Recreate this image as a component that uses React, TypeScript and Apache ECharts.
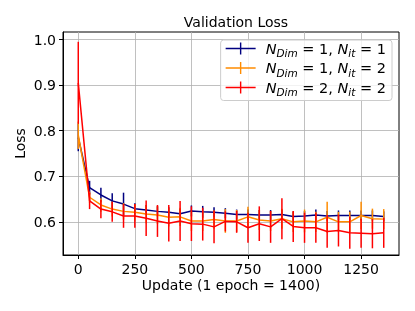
import React, { useEffect, useRef } from "react";
import * as echarts from "echarts";

const steps = [0, 50, 100, 150, 200, 250, 300, 350, 400, 450, 500, 550, 600, 650, 700, 750, 800, 850, 900, 950, 1000, 1050, 1100, 1150, 1200, 1250, 1300, 1350];

const blueVals = [0.785, 0.675, 0.659, 0.646, 0.639, 0.629, 0.626, 0.623, 0.621, 0.618, 0.624, 0.622, 0.621, 0.619, 0.616, 0.616, 0.615, 0.615, 0.616, 0.612, 0.613, 0.615, 0.613, 0.614, 0.614, 0.614, 0.614, 0.612];
const blueErr = [0.03, 0.015, 0.016, 0.017, 0.025, 0.012, 0.011, 0.011, 0.011, 0.011, 0.012, 0.013, 0.011, 0.011, 0.011, 0.011, 0.011, 0.011, 0.011, 0.011, 0.011, 0.012, 0.011, 0.011, 0.011, 0.011, 0.011, 0.011];

const orangeVals = [0.79, 0.654, 0.637, 0.628, 0.623, 0.621, 0.617, 0.615, 0.610, 0.611, 0.602, 0.602, 0.605, 0.602, 0.602, 0.611, 0.604, 0.602, 0.607, 0.600, 0.602, 0.600, 0.610, 0.600, 0.600, 0.614, 0.607, 0.606];
const orangeErr = [0.03, 0.012, 0.015, 0.016, 0.018, 0.018, 0.02, 0.02, 0.02, 0.02, 0.022, 0.022, 0.02, 0.026, 0.024, 0.022, 0.022, 0.022, 0.022, 0.022, 0.025, 0.022, 0.034, 0.022, 0.022, 0.03, 0.022, 0.022];

const redVals = [0.905, 0.646, 0.628, 0.622, 0.613, 0.613, 0.608, 0.602, 0.597, 0.602, 0.596, 0.595, 0.589, 0.601, 0.600, 0.587, 0.596, 0.589, 0.607, 0.590, 0.587, 0.587, 0.579, 0.581, 0.576, 0.575, 0.574, 0.576];
const redErr = [0.09, 0.018, 0.02, 0.022, 0.026, 0.026, 0.039, 0.035, 0.04, 0.044, 0.038, 0.036, 0.036, 0.022, 0.024, 0.033, 0.038, 0.035, 0.045, 0.034, 0.033, 0.033, 0.036, 0.035, 0.035, 0.032, 0.032, 0.033];

const nDims = [1, 1, 2];
const nIts = [1, 2, 2];
const seriesNames = ["NDim=1,Nit=1", "NDim=1,Nit=2", "NDim=2,Nit=2"];
const colors = ["#000080", "#ff8c00", "#ff0000"];
const allVals = [blueVals, orangeVals, redVals];
const allErrs = [blueErr, orangeErr, redErr];

const xTicks = [0, 250, 500, 750, 1000, 1250];
const yTicks = [0.6, 0.7, 0.8, 0.9, 1.0];

const FONT = "DejaVu Sans";

export default function App() {
  const ref = useRef<HTMLDivElement>(null);
  useEffect(() => {
    if (!ref.current) return;
    const chart = echarts.init(ref.current, null, { renderer: "svg" });
    const series: any[] = [];
    allVals.forEach((vals, k) => {
      series.push({
        name: seriesNames[k],
        type: "line",
        data: steps.map((s, i) => [s, vals[i]]),
        symbol: "none",
        lineStyle: { color: colors[k], width: 1.5 },
        itemStyle: { color: colors[k] },
        z: 2 + k * 2,
      });
      series.push({
        name: seriesNames[k] + "_err",
        type: "custom",
        data: steps.map((s, i) => [s, vals[i] - allErrs[k][i], vals[i] + allErrs[k][i]]),
        encode: { x: 0, y: [1, 2] },
        z: 3 + k * 2,
        renderItem: (params: any, api: any) => {
          const x = api.value(0);
          const p1 = api.coord([x, api.value(1)]);
          const p2 = api.coord([x, api.value(2)]);
          return {
            type: "line",
            shape: { x1: p1[0], y1: p1[1], x2: p2[0], y2: p2[1] },
            style: { stroke: colors[k], lineWidth: 1.5 },
          };
        },
      });
    });
    const axisCommon = {
      axisLine: { show: true, onZero: false, lineStyle: { color: "#000", width: 1 } },
      axisTick: { show: true, inside: false, length: 4, lineStyle: { color: "#000", width: 1 } },
      splitLine: { show: true, lineStyle: { color: "#b0b0b0", width: 0.8 } },
    };
    chart.setOption({
      animation: false,
      title: {
        text: "Validation Loss",
        left: 231,
        textAlign: "center",
        top: 10,
        textStyle: { fontFamily: FONT, fontSize: 14, fontWeight: "normal", color: "#000" },
      },
      grid: { left: 63, right: 16, top: 32, bottom: 56, show: true, borderColor: "#000", borderWidth: 1, containLabel: false },
      legend: {
        data: seriesNames,
        orient: "vertical",
        right: 23,
        top: 40,
        itemWidth: 30,
        itemHeight: 12,
        itemGap: 2,
        padding: [1, 6, 3, 5],
        backgroundColor: "rgba(255,255,255,0.8)",
        borderColor: "#cccccc",
        borderWidth: 1,
        borderRadius: 3,
        icon: "path://M0,5.3H30V6.7H0Z M14.3,0H15.7V12H14.3Z",
        formatter: (name: string) => {
          const k = seriesNames.indexOf(name);
          return `{n|N}{s|Dim}{t| = ${nDims[k]}, }{m|N}{s|it}{t| = ${nIts[k]}}`;
        },
        textStyle: {
          fontFamily: FONT,
          fontSize: 14.5,
          color: "#000",
          rich: {
            n: { fontFamily: FONT, fontStyle: "italic", fontSize: 14.5, lineHeight: 20, verticalAlign: "middle", padding: [0, 0, 0, 5], color: "#000" },
            m: { fontFamily: FONT, fontStyle: "italic", fontSize: 14.5, lineHeight: 20, verticalAlign: "middle", color: "#000" },
            s: { fontFamily: FONT, fontStyle: "italic", fontSize: 10.5, lineHeight: 11, verticalAlign: "bottom", color: "#000" },
            t: { fontFamily: FONT, fontSize: 14.5, lineHeight: 20, verticalAlign: "middle", color: "#000" },
          },
        },
      },
      xAxis: {
        type: "value",
        min: -67.5,
        max: 1417.5,
        name: "Update (1 epoch = 1400)",
        nameLocation: "middle",
        nameGap: 23,
        nameMoveOverlap: false,
        nameTextStyle: { fontFamily: FONT, fontSize: 14, color: "#000", verticalAlign: "top" },
        ...axisCommon,
        axisTick: { ...axisCommon.axisTick, customValues: xTicks },
        axisLabel: {
          customValues: xTicks,
          fontFamily: FONT,
          fontSize: 14,
          color: "#000",
          margin: 7,
          formatter: (v: number) => String(Math.round(v)),
        },
      },
      yAxis: {
        type: "value",
        min: 0.5273,
        max: 1.0165,
        name: "Loss",
        nameLocation: "middle",
        nameGap: 36,
        nameMoveOverlap: false,
        nameTextStyle: { fontFamily: FONT, fontSize: 14, color: "#000" },
        ...axisCommon,
        axisTick: { ...axisCommon.axisTick, customValues: yTicks },
        axisLabel: {
          customValues: yTicks,
          fontFamily: FONT,
          fontSize: 14,
          color: "#000",
          margin: 7,
          formatter: (v: number) => v.toFixed(1),
        },
      },
      series,
    });
    return () => chart.dispose();
  }, []);
  return <div ref={ref} style={{ position: "fixed", left: 0, top: 0, width: 415, height: 311 }} />;
}
